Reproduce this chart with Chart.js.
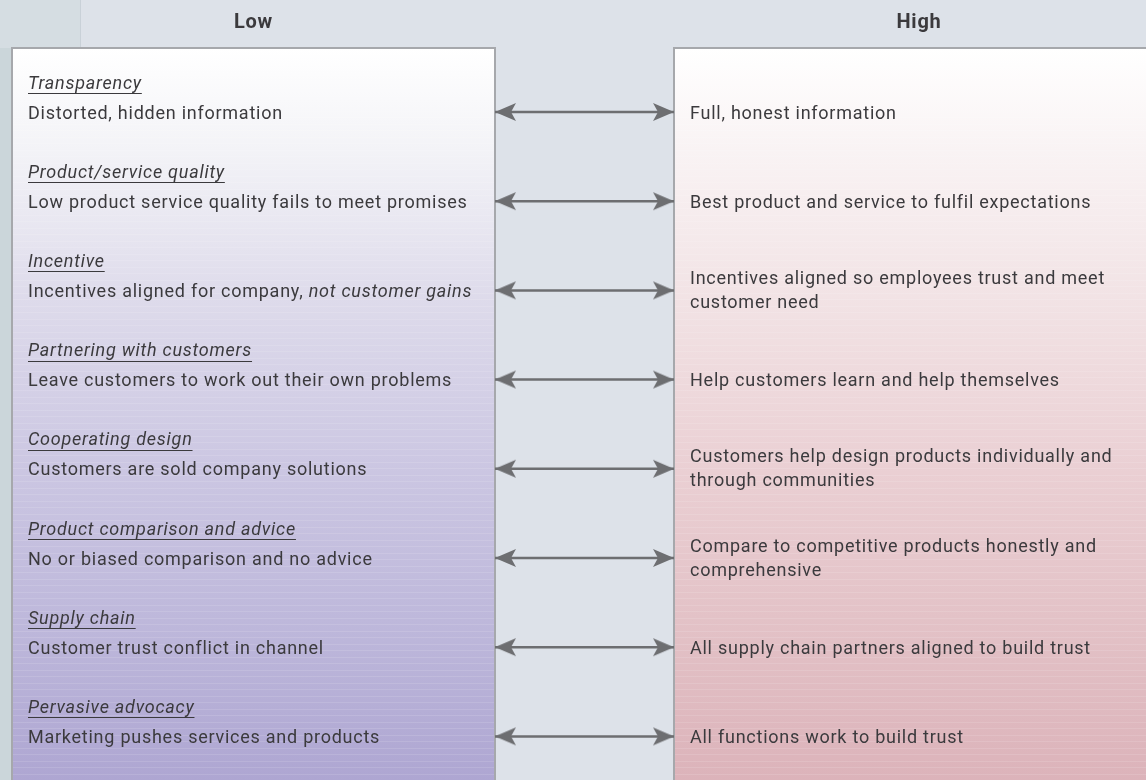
<!DOCTYPE html>
<html lang="en">
  <head>
    <meta charset="UTF-8" />
    <title>Customer trust: low vs high</title>
    <style>
      body { margin: 0; background: #dde2e9; }
      .mainBox { width: 1146px; height: 780px; position: relative; }
    </style>
  </head>
  <body>
    <div class="mainBox">
      <canvas id="myChart_trust"></canvas>
    </div>
  <script src="https://cdn.jsdelivr.net/npm/chart.js@4/dist/chart.umd.min.js"></script>
  <script>
    // headers of the two sides
    const sideHeaders = ['Low', 'High'];
    // trust dimensions (italic, underlined labels)
    const dimensions = [
      'Transparency',
      'Product/service quality',
      'Incentive',
      'Partnering with customers',
      'Cooperating design',
      'Product comparison and advice',
      'Supply chain',
      'Pervasive advocacy'
    ];
    // low-trust practice, _..._ marks italic words
    const lowPractice = [
      'Distorted, hidden information',
      'Low product service quality fails to meet promises',
      'Incentives aligned for company, _not customer gains_',
      'Leave customers to work out their own problems',
      'Customers are sold company solutions',
      'No or biased comparison and no advice',
      'Customer trust conflict in channel',
      'Marketing pushes services and products'
    ];
    // high-trust practice, \n = line break
    const highPractice = [
      'Full, honest information',
      'Best product and service to fulfil expectations',
      'Incentives aligned so employees trust and meet\ncustomer need',
      'Help customers learn and help themselves',
      'Customers help design products individually and\nthrough communities',
      'Compare to competitive products honestly and\ncomprehensive',
      'All supply chain partners aligned to build trust',
      'All functions work to build trust'
    ];
    // arrow runs from low (0) to high (1)
    const arrowEnds = [0, 1];

    const TEXT = '#3b3a3d';
    const ARROW = '#6d6e71';
    const FONT = 'Roboto, "Noto Sans", sans-serif';
    const SIZE = 18;

    // arrowhead image, tip at the image centre
    function makeHead() {
      const c = document.createElement('canvas');
      c.width = 44; c.height = 22;
      const g = c.getContext('2d');
      g.fillStyle = ARROW;
      g.beginPath();
      g.moveTo(22, 11);
      g.lineTo(1, 2);
      g.lineTo(6, 11);
      g.lineTo(1, 20);
      g.closePath();
      g.fill();
      return c;
    }
    const head = makeHead();

    function gradient(ctx, top, bottom, stops) {
      const gr = ctx.createLinearGradient(0, top, 0, bottom);
      stops.forEach(s => gr.addColorStop(s[0], s[1]));
      return gr;
    }

    function drawPanel(ctx, x, y, w, h, fill) {
      ctx.fillStyle = fill;
      ctx.fillRect(x, y, w, h);
      // faint print stripes
      ctx.strokeStyle = 'rgba(255,255,255,0.12)';
      ctx.lineWidth = 1;
      for (let yy = y + 4; yy < y + h; yy += 6.5) {
        ctx.beginPath();
        ctx.moveTo(x, Math.round(yy) + 0.5);
        ctx.lineTo(x + w, Math.round(yy) + 0.5);
        ctx.stroke();
      }
      ctx.strokeStyle = '#a6a8ac';
      ctx.lineWidth = 2;
      ctx.strokeRect(x, y, w, h);
    }

    function drawRich(ctx, str, x, y) {
      const parts = str.split('_');
      parts.forEach((p, k) => {
        ctx.font = (k % 2 ? 'italic ' : '') + SIZE + 'px ' + FONT;
        ctx.fillText(p, x, y);
        x += ctx.measureText(p).width;
      });
    }

    const boardPlugin = {
      id: 'board',
      beforeDatasetsDraw(chart) {
        const ctx = chart.ctx;
        const xs = chart.scales.x, ys = chart.scales.y;
        const lowEdge = xs.getPixelForValue(arrowEnds[0]);
        const highEdge = xs.getPixelForValue(arrowEnds[1]);
        const H = chart.height, W = chart.width;
        const top = 48;
        ctx.save();
        // background
        ctx.fillStyle = '#dde2e9';
        ctx.fillRect(0, 0, W, H);
        ctx.fillStyle = '#d5dde2';
        ctx.fillRect(0, 0, 80, top);
        ctx.fillStyle = '#cbd6da';
        ctx.fillRect(0, top, 12, H - top);
        ctx.strokeStyle = '#c9d1d8';
        ctx.lineWidth = 1;
        ctx.beginPath(); ctx.moveTo(80.5, 0); ctx.lineTo(80.5, top); ctx.stroke();

        // panels
        const lowX = 12;
        const highW = 490;
        drawPanel(ctx, lowX, top, lowEdge - lowX, H - top + 10,
          gradient(ctx, top, H, [[0, '#ffffff'], [0.14, '#f3f3f7'], [0.34, '#dedbeb'], [0.58, '#cbc6e2'], [0.81, '#bcb6da'], [1, '#aea6d2']]));
        drawPanel(ctx, highEdge, top, highW, H - top + 10,
          gradient(ctx, top, H, [[0, '#ffffff'], [0.14, '#f9f3f4'], [0.34, '#f2e3e5'], [0.58, '#eacfd3'], [0.81, '#e2c0c5'], [1, '#dcb3ba']]));

        // headers
        ctx.fillStyle = TEXT;
        ctx.textAlign = 'center';
        ctx.textBaseline = 'middle';
        ctx.letterSpacing = '0.8px';
        ctx.font = 'bold 20px ' + FONT;
        ctx.fillText(sideHeaders[0], (lowX + lowEdge) / 2, 23);
        ctx.fillText(sideHeaders[1], highEdge + highW / 2, 23);

        // rows
        ctx.textAlign = 'left';
        ctx.letterSpacing = '0.75px';
        const lx = lowX + 16, hx = highEdge + 16;
        dimensions.forEach((d, i) => {
          const y = ys.getPixelForValue(i) + 2;
          ctx.font = 'italic ' + SIZE + 'px ' + FONT;
          ctx.fillText(d, lx, y - 30);
          const w = ctx.measureText(d).width;
          ctx.strokeStyle = TEXT;
          ctx.lineWidth = 1;
          ctx.beginPath();
          ctx.moveTo(lx, Math.round(y - 21) + 0.5);
          ctx.lineTo(lx + w, Math.round(y - 21) + 0.5);
          ctx.stroke();

          drawRich(ctx, lowPractice[i], lx, y);

          ctx.font = SIZE + 'px ' + FONT;
          const lines = highPractice[i].split('\n');
          const lh = 24;
          lines.forEach((ln, k) => {
            ctx.fillText(ln, hx, y + (k - (lines.length - 1) / 2) * lh - (lines.length > 1 ? 1 : 0));
          });
        });
        ctx.restore();
      }
    };

    const datasets = dimensions.map((d, i) => ({
      label: d,
      data: arrowEnds.map(v => ({ x: v, y: i })),
      showLine: true,
      borderColor: ARROW,
      borderWidth: 2.5,
      pointStyle: head,
      pointRadius: 3,
      pointRotation: [180, 0],
      clip: false
    }));

    new Chart(document.getElementById('myChart_trust'), {
      type: 'scatter',
      data: { datasets: datasets },
      options: {
        responsive: true,
        maintainAspectRatio: false,
        animation: false,
        events: [],
        layout: { padding: 0, autoPadding: false },
        plugins: { legend: { display: false }, tooltip: { enabled: false } },
        scales: {
          // 179px between the two panels, low edge at 495px
          x: { type: 'linear', display: false, min: -495 / 179, max: 651 / 179 },
          // rows 89.2px apart, first row at 112px
          y: { type: 'linear', display: false, reverse: true, min: -112 / 89.2, max: 668 / 89.2 }
        }
      },
      plugins: [boardPlugin]
    });
  </script>
  </body>
</html>
